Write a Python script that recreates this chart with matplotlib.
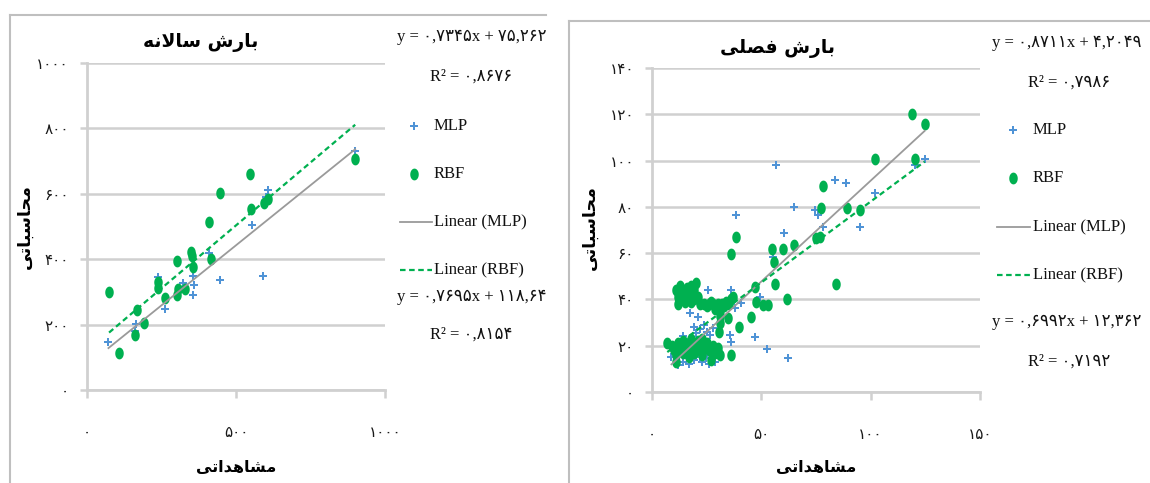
import numpy as np
import matplotlib
matplotlib.use('Agg')
import matplotlib.pyplot as plt
from matplotlib.path import Path
from matplotlib.lines import Line2D
from matplotlib.ticker import FixedLocator, FuncFormatter

# ---- data: annual precipitation (left) ----
ann_mlp_x = [72, 162, 165, 238, 263, 323, 355, 358, 357, 408, 445, 553, 607, 600, 590, 900]
ann_mlp_y = [147, 180, 203, 345, 249, 327, 350, 320, 290, 420, 336, 504, 612, 590, 350, 730]
ann_rbf_x = [74, 109, 162, 168, 190, 238, 238, 263, 301, 301, 306, 328, 348, 357, 354,
             410, 415, 447, 548, 551, 593, 607, 900]
ann_rbf_y = [300, 112, 168, 244, 205, 330, 312, 280, 395, 290, 310, 310, 422, 376, 410,
             514, 402, 603, 660, 555, 572, 583, 705]
ann_fit_mlp = (0.7345, 75.262, 0.8676)
ann_fit_rbf = (0.7695, 118.64, 0.8154)
ann_xticks = [0, 500, 1000]
ann_yticks = [0, 200, 400, 600, 800, 1000]

# ---- data: seasonal precipitation (right) ----
sea_mlp_x = [8.9, 11.9, 12.7, 14, 15, 16.5, 17, 18.7, 19, 20, 21.8, 23, 24.9, 26, 27.9, 29,
             25, 13, 16, 22, 28, 30, 18, 14, 19, 23, 25, 20.3, 21.8, 24, 26.4, 27.7, 21,
             17.2, 20.3, 25.6, 36.3, 35.5, 36.3, 37.8, 40.9, 47, 52.8, 62.2, 49.2, 38.3,
             55.5, 56.6, 60.4, 64.9, 74.4, 75.9, 78.2, 83.5, 88.9, 95, 101.8, 120.1, 124.7]
sea_mlp_y = [15.2, 11.6, 21, 13, 16, 14.5, 12, 17.3, 14, 16, 15.2, 13, 14.5, 12, 14.5, 13,
             17, 18, 20, 19, 16, 17, 22, 24, 28, 22, 26, 25.3, 27.4, 28.9, 24.5, 27.6, 32.5,
             34, 40.4, 44, 44, 24.5, 21.6, 36.1, 38.3, 23.8, 18.5, 14.9, 41.1, 76.5,
             58.5, 98.1, 68.6, 79.8, 78.7, 76.5, 71.2, 91.6, 90.2, 71.2, 86.1, 98.1, 100.6]
sea_rbf_x = [11, 12, 12, 13, 14, 15, 16, 17, 18, 18, 19, 20, 21, 13, 16, 19,
             22, 24, 25, 26, 27, 28, 29, 30, 31, 32, 33, 34, 35, 36, 37,
             31, 31, 30.5, 34.8,
             7, 9, 10, 11, 11, 12, 13, 14, 14, 15, 16, 17, 17, 18, 19, 20, 21, 22, 23, 24,
             25, 26, 27, 28, 29, 30, 31, 23, 18, 36.3,
             40, 45.5, 47, 47.7, 50.8, 53, 56.4, 61.9, 84, 36.3, 38.3, 55, 55.6, 59.9, 64.9,
             75, 76.7, 77.4, 78.2, 89.2, 95, 101.8, 118.9, 124.7, 120.1]
sea_rbf_y = [44, 41, 38, 46, 43, 39, 45, 42, 46, 39, 44, 47, 41, 40, 40, 40,
             38, 38, 37, 38, 39, 38, 36, 38, 35, 38, 37, 39, 38, 40, 41,
             33, 30, 26, 31.8,
             21, 20, 18, 16, 13, 21, 19, 17, 22, 20, 18, 21, 15, 19, 17, 20, 22, 18, 16, 20,
             21, 18, 14, 20, 17, 19, 16, 23, 23, 16,
             28, 32.5, 45.5, 39, 37.5, 37.5, 46.6, 40, 46.6, 59.6, 66.8, 61.6, 56.3, 62, 63.5,
             66.4, 67.1, 79.4, 89, 79.4, 78.7, 100.6, 120.1, 115.8, 100.6]
sea_fit_mlp = (0.8711, 4.2049, 0.7986)
sea_fit_rbf = (0.6992, 12.362, 0.7192)
sea_xticks = [0, 50, 100, 150]
sea_yticks = [0, 20, 40, 60, 80, 100, 120, 140]

W, H = 1150, 483
BLUE = '#4F93D6'
GREEN = '#00B050'
GRAY_LINE = '#9A9A9A'
GRID = '#D0D0D0'
FRAME = '#BFBFBF'
SERIF = ['Liberation Serif', 'DejaVu Sans']

# matplotlib does no arabic shaping -> pick presentation forms by hand, then reverse
FORMS = {
    'ا': ('\ufe8d', '\ufe8e'), 'د': ('\ufea9', '\ufeaa'), 'ر': ('\ufead', '\ufeae'),
    'ب': ('\ufe8f', '\ufe90', '\ufe91', '\ufe92'), 'ت': ('\ufe95', '\ufe96', '\ufe97', '\ufe98'),
    'ح': ('\ufea1', '\ufea2', '\ufea3', '\ufea4'), 'س': ('\ufeb1', '\ufeb2', '\ufeb3', '\ufeb4'),
    'ش': ('\ufeb5', '\ufeb6', '\ufeb7', '\ufeb8'), 'ص': ('\ufeb9', '\ufeba', '\ufebb', '\ufebc'),
    'ف': ('\ufed1', '\ufed2', '\ufed3', '\ufed4'), 'ل': ('\ufedd', '\ufede', '\ufedf', '\ufee0'),
    'م': ('\ufee1', '\ufee2', '\ufee3', '\ufee4'), 'ن': ('\ufee5', '\ufee6', '\ufee7', '\ufee8'),
    'ه': ('\ufee9', '\ufeea', '\ufeeb', '\ufeec'), 'ی': ('\ufbfc', '\ufbfd', '\ufbfe', '\ufbff'),
}


def fa(s):
    out = []
    i = 0
    while i < len(s):
        c = s[i]
        if c not in FORMS:
            out.append(c)
            i += 1
            continue
        prev = s[i - 1] if i > 0 else ''
        join_prev = prev in FORMS and len(FORMS[prev]) == 4
        if c == 'ل' and i + 1 < len(s) and s[i + 1] == 'ا':
            out.append('\ufefc' if join_prev else '\ufefb')
            i += 2
            continue
        nxt = s[i + 1] if i + 1 < len(s) else ''
        join_next = len(FORMS[c]) == 4 and nxt in FORMS
        f = FORMS[c]
        if join_prev and join_next:
            out.append(f[3])
        elif join_prev:
            out.append(f[1])
        elif join_next:
            out.append(f[2])
        else:
            out.append(f[0])
        i += 1
    return ''.join(out[::-1])


DIG = str.maketrans('0123456789.', '۰۱۲۳۴۵۶۷۸۹,')


def fnum(v):
    return str(v).translate(DIG)


def fx(px):
    return px / W


def fy(py):
    return 1 - py / H


t = np.linspace(0, 2 * np.pi, 40)
oval = Path(np.column_stack([0.72 * np.cos(t), np.sin(t)]))

fig = plt.figure(figsize=(11.5, 4.83), dpi=100)


def frame(x0, y0, x1):
    fig.add_artist(Line2D([fx(x0), fx(x1)], [fy(y0), fy(y0)], color=FRAME, lw=1.5))
    fig.add_artist(Line2D([fx(x0), fx(x0)], [fy(y0), 0], color=FRAME, lw=1.5))


def panel(px, xlim, ylim, xticks, yticks, mx, my, rx, ry, fit_m, fit_r):
    x0, x1, yb, yt = px
    ax = fig.add_axes([fx(x0), fy(yb), (x1 - x0) / W, (yb - yt) / H])
    ax.set_xlim(*xlim)
    ax.set_ylim(*ylim)
    ax.set_facecolor('none')
    for s in ['top', 'right']:
        ax.spines[s].set_visible(False)
    for s in ['left', 'bottom']:
        ax.spines[s].set_color(GRID)
        ax.spines[s].set_linewidth(2)
    ax.xaxis.set_major_locator(FixedLocator(xticks))
    ax.yaxis.set_major_locator(FixedLocator(yticks))
    ax.xaxis.set_major_formatter(FuncFormatter(lambda v, p: fnum(int(v))))
    ax.yaxis.set_major_formatter(FuncFormatter(lambda v, p: fnum(int(v))))
    ax.tick_params(axis='y', length=5, width=1.8, color=GRID, pad=8, labelsize=11, labelcolor='#1A1A1A')
    ax.tick_params(axis='x', length=6, width=1.8, color=GRID, pad=19, labelsize=11, labelcolor='#1A1A1A')
    ax.grid(axis='y', color=GRID, lw=1.8)
    ax.set_axisbelow(True)
    ax.plot(mx, my, ls='none', marker='P', ms=6, color=BLUE, mew=0, clip_on=False)
    ax.plot(rx, ry, ls='none', marker=oval, ms=8.5, color=GREEN, mew=0, clip_on=False)
    xs = np.array([min(mx), max(mx)])
    ax.plot(xs, fit_m[0] * xs + fit_m[1], color=GRAY_LINE, lw=1.3)
    xs = np.array([min(rx), max(rx)])
    ax.plot(xs, fit_r[0] * xs + fit_r[1], color=GREEN, lw=1.6, dashes=(2.5, 1.6))
    return ax


def labels(title, tpos, ypos, xpos):
    fig.text(fx(tpos[0]), fy(tpos[1]), fa(title), ha='center', va='center',
             fontsize=13.5, fontweight='bold', family='DejaVu Sans')
    fig.text(fx(ypos[0]), fy(ypos[1]), fa('محاسباتی'), ha='center', va='center',
             rotation=90, fontsize=12.5, fontweight='bold', family='DejaVu Sans')
    fig.text(fx(xpos[0]), fy(xpos[1]), fa('مشاهداتی'), ha='center', va='center',
             fontsize=11.5, fontweight='bold', family='DejaVu Sans')


def legend(x_eq, x_r2, x_mark, x_line, x_txt, ys, fit_m, fit_r):
    y_eq1, y_r1, y_m, y_r, y_lm, y_lr, y_eq2, y_r2 = ys
    kw = dict(va='center', ha='left', fontsize=12, family=SERIF, color='#111111')
    fig.text(fx(x_eq), fy(y_eq1), 'y = %sx + %s' % (fnum(fit_m[0]), fnum(fit_m[1])), **kw)
    fig.text(fx(x_r2), fy(y_r1), 'R² = %s' % fnum(fit_m[2]), **kw)
    fig.text(fx(x_eq), fy(y_eq2), 'y = %sx + %s' % (fnum(fit_r[0]), fnum(fit_r[1])), **kw)
    fig.text(fx(x_r2), fy(y_r2), 'R² = %s' % fnum(fit_r[2]), **kw)
    fig.add_artist(Line2D([fx(x_mark)], [fy(y_m)], marker='P', ms=6, color=BLUE, mew=0))
    fig.add_artist(Line2D([fx(x_mark)], [fy(y_r)], marker=oval, ms=8.5, color=GREEN, mew=0))
    fig.add_artist(Line2D([fx(x_line[0]), fx(x_line[1])], [fy(y_lm)] * 2, color=GRAY_LINE, lw=1.3))
    fig.add_artist(Line2D([fx(x_line[0]), fx(x_line[1])], [fy(y_lr)] * 2, color=GREEN, lw=1.6,
                          dashes=(2.5, 1.6)))
    fig.text(fx(x_txt), fy(y_m), 'MLP', **kw)
    fig.text(fx(x_txt), fy(y_r), 'RBF', **kw)
    fig.text(fx(x_txt), fy(y_lm), 'Linear (MLP)', **kw)
    fig.text(fx(x_txt), fy(y_lr), 'Linear (RBF)', **kw)


# left chart
frame(10, 15, 546)
panel((87, 385, 390, 63), (0, 1000), (0, 1000), ann_xticks, ann_yticks,
      ann_mlp_x, ann_mlp_y, ann_rbf_x, ann_rbf_y, ann_fit_mlp, ann_fit_rbf)
labels('بارش سالانه', (201, 43), (25, 227), (236, 467))
legend(397, 430, 414, (400, 432), 434, (37, 77, 126, 174, 222, 270, 297, 335),
       ann_fit_mlp, ann_fit_rbf)

# right chart
frame(569, 21, 1150)
panel((652, 980, 392, 68), (0, 150), (0, 140), sea_xticks, sea_yticks,
      sea_mlp_x, sea_mlp_y, sea_rbf_x, sea_rbf_y, sea_fit_mlp, sea_fit_rbf)
labels('بارش فصلی', (778, 48), (590, 228), (816, 468))
legend(992, 1028, 1013, (997, 1030), 1033, (43, 83, 130, 178, 227, 275, 322, 362),
       sea_fit_mlp, sea_fit_rbf)

fig.savefig('out.png', dpi=100)
